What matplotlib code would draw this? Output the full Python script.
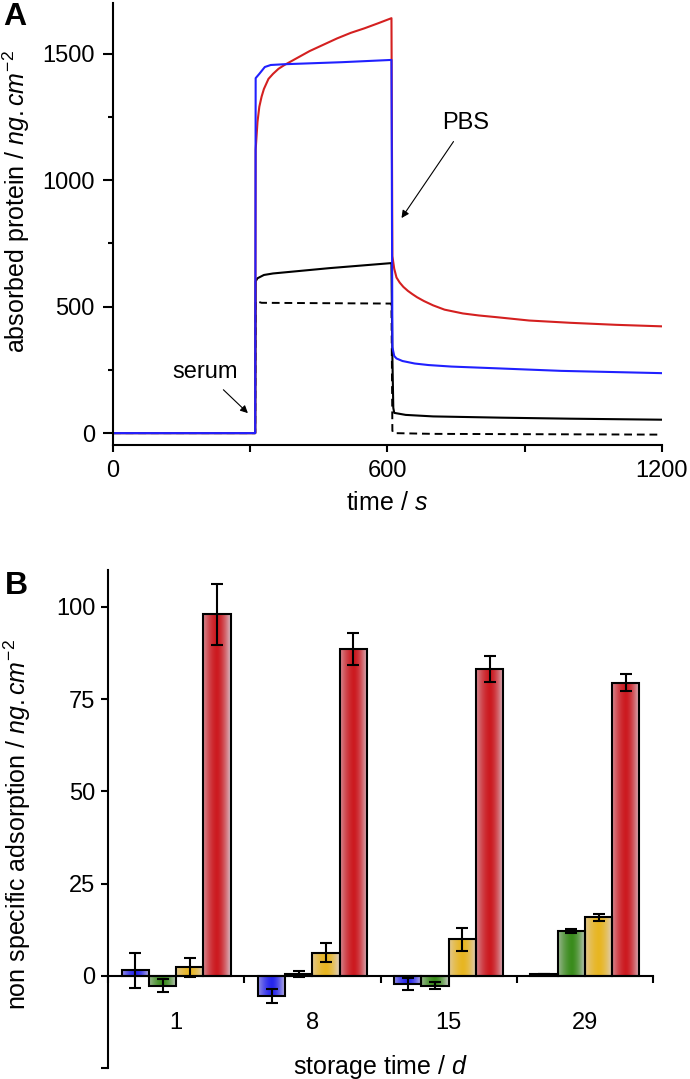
import numpy as np
import matplotlib
matplotlib.use('Agg')
import matplotlib.pyplot as plt
import matplotlib.colors as mcolors
from matplotlib.ticker import MultipleLocator

plt.rcParams['font.family'] = ['Liberation Sans', 'DejaVu Sans']
plt.rcParams['mathtext.fontset'] = 'custom'
plt.rcParams['mathtext.rm'] = 'Liberation Sans'
plt.rcParams['mathtext.it'] = 'Liberation Sans:italic'
plt.rcParams['font.size'] = 17
plt.rcParams['axes.labelsize'] = 18

# ---- panel A: adsorption kinetics ----
t_red = [0, 311, 312, 316, 320, 325, 330, 340, 350, 362, 375, 390, 410, 430, 460, 490,
         520, 550, 580, 609, 611, 615, 620, 627, 635, 645, 655, 665, 680, 700, 725,
         765, 800, 840, 910, 1000, 1100, 1200]
red = [0, 0, 1120, 1230, 1290, 1330, 1360, 1400, 1420, 1440, 1455, 1470, 1490, 1510,
       1535, 1560, 1582, 1600, 1620, 1640, 700, 650, 615, 595, 578, 562, 549, 537,
       522, 505, 488, 473, 465, 458, 445, 436, 428, 422]

t_blue = [0, 311, 312, 320, 332, 345, 375, 500, 609, 611, 615, 620, 633, 660, 690,
          740, 840, 980, 1200]
blue = [0, 0, 1403, 1420, 1447, 1455, 1458, 1466, 1475, 340, 305, 295, 285, 275, 269,
        263, 256, 246, 237]

t_black = [0, 311, 312, 316, 330, 350, 473, 609, 611, 613, 615, 640, 700, 850, 1000, 1200]
black = [0, 0, 600, 612, 625, 631, 652, 672, 300, 100, 80, 72, 66, 61, 57, 53]

t_dash = [0, 311, 312, 325, 609, 611, 613, 700, 1200]
dash = [0, 0, 522, 515, 512, 10, 0, -3, -6]

# ---- panel B: non specific adsorption vs storage time ----
days = ['1', '8', '15', '29']
blue_b = [1.5, -5.4, -2.2, 0.5]
blue_e = [4.8, 1.9, 1.6, 0.0]
green_b = [-2.7, 0.4, -2.7, 12.1]
green_e = [1.7, 0.8, 0.9, 0.6]
yellow_b = [2.3, 6.3, 9.9, 15.8]
yellow_e = [2.6, 2.5, 3.1, 1.0]
red_b = [98.0, 88.6, 83.2, 79.4]
red_e = [8.3, 4.3, 3.6, 2.3]

W, H = 690, 1079
fig = plt.figure(figsize=(W / 100, H / 100), dpi=100)
ax1 = fig.add_axes([113 / W, 1 - 445 / H, (661.7 - 113) / W, (445 - 3) / H])
ax2 = fig.add_axes([108 / W, 1 - 1068 / H, (653 - 108) / W, (1068 - 570) / H])

for ax in (ax1, ax2):
    ax.spines['top'].set_visible(False)
    ax.spines['right'].set_visible(False)
    ax.spines['left'].set_linewidth(1.5)
    ax.spines['bottom'].set_linewidth(1.5)

# panel A
ax1.plot(t_dash, dash, color='black', lw=1.4, ls=(0, (4, 2.5)))
ax1.plot(t_black, black, color='black', lw=1.5)
ax1.plot(t_red, red, color='#d42020', lw=1.5)
ax1.plot(t_blue, blue, color='#2020ff', lw=1.5)

ax1.set_xlim(0, 1200)
ax1.set_ylim(-47, 1700)
ax1.set_xticks([0, 600, 1200])
ax1.xaxis.set_minor_locator(MultipleLocator(300))
ax1.set_yticks([0, 500, 1000, 1500])
ax1.yaxis.set_minor_locator(MultipleLocator(250))
ax1.tick_params(axis='x', which='both', direction='out', length=5, width=1.5, pad=6)
ax1.tick_params(axis='y', which='major', direction='out', length=7, width=1.5, pad=6)
ax1.tick_params(axis='y', which='minor', direction='out', length=3.5, width=1.5)
ax1.set_xlabel(r'time / $\mathit{s}$')
ax1.xaxis.set_label_coords(0.5, -0.105)
ax1.set_ylabel(r'absorbed protein / $\mathit{ng.cm}^{-2}$')
ax1.yaxis.set_label_coords(-0.148, 0.55)

arrow = dict(arrowstyle='-|>', color='black', lw=0.8, mutation_scale=11, shrinkA=4, shrinkB=0)
ax1.annotate('serum', xy=(295, 79), xytext=(201, 241), ha='center', va='center',
             arrowprops=arrow)
ax1.annotate('PBS', xy=(631, 850), xytext=(772, 1225), ha='center', va='center',
             arrowprops=arrow)

# panel B
x = np.arange(len(days))
bw = 0.2
series = [(blue_b, blue_e, '#2626ee'), (green_b, green_e, '#3a8c1c'),
          (yellow_b, yellow_e, '#e8b622'), (red_b, red_e, '#cc1a20')]
gray = np.array([0.86, 0.83, 0.87])
u = np.linspace(0, 1, 64)
wts = np.where(u < 0.5, 0.6 * ((0.5 - u) / 0.5) ** 1.6, 0.9 * ((u - 0.5) / 0.5) ** 1.6)

for i, (vals, errs, col) in enumerate(series):
    pos = x + (i - 1.5) * bw
    bars = ax2.bar(pos, vals, bw, edgecolor='black', linewidth=1.5, zorder=2,
                   facecolor='none')
    c = np.array(mcolors.to_rgb(col))
    img = (c[None, :] * (1 - wts[:, None]) + gray[None, :] * wts[:, None])[None, :, :]
    for b in bars:
        x0, y0 = b.get_x(), b.get_y()
        x1, y1 = x0 + b.get_width(), y0 + b.get_height()
        im = ax2.imshow(img, extent=[x0, x1, min(y0, y1), max(y0, y1)], aspect='auto',
                        interpolation='bilinear', zorder=1)
        im.set_clip_path(b)
    ax2.errorbar(pos, vals, yerr=errs, fmt='none', ecolor='black', elinewidth=1.5,
                 capsize=4, capthick=1.5, zorder=3)

ax2.set_xlim(-0.5, 3.5)
ax2.set_ylim(-25, 110)
ax2.spines['bottom'].set_position(('data', 0))
ax2.set_xticks(x)
ax2.set_xticklabels(days)
ax2.set_xticks(np.arange(-0.5, 4, 1), minor=True)
ax2.tick_params(axis='x', which='major', length=0, pad=26)
ax2.tick_params(axis='x', which='minor', direction='out', length=5, width=1.5)
ax2.set_yticks([-25, 0, 25, 50, 75, 100])
ax2.set_yticklabels(['', '0', '25', '50', '75', '100'])
ax2.tick_params(axis='y', direction='out', length=5, width=1.5, pad=4)
ax2.set_xlabel(r'storage time / $\mathit{d}$')
ax2.xaxis.set_label_coords(0.5, 0.03)
ax2.set_ylabel(r'non specific adsorption / $\mathit{ng.cm}^{-2}$')
ax2.yaxis.set_label_coords(-0.138, 0.488)

fig.text(3 / W, 1 - 2 / H, 'A', fontsize=23, fontweight='bold', va='top', ha='left')
fig.text(5 / W, 1 - 571 / H, 'B', fontsize=23, fontweight='bold', va='top', ha='left')

fig.savefig('out.png', dpi=100)
